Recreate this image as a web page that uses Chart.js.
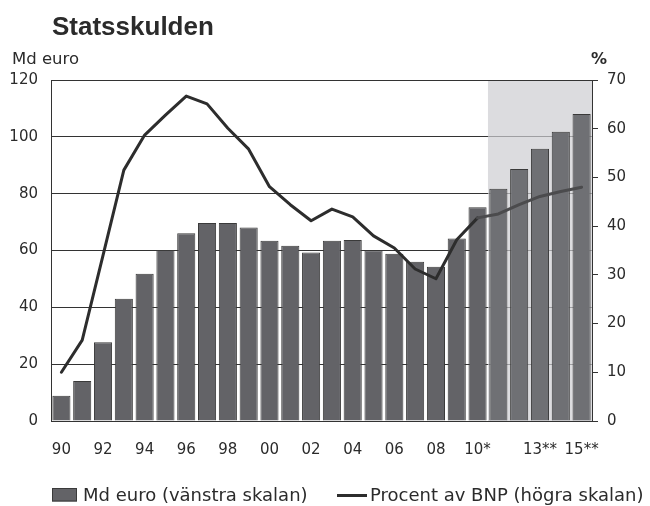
<!DOCTYPE html>
<html>
<head>
<meta charset="utf-8">
<script src="https://cdn.jsdelivr.net/npm/chart.js@4/dist/chart.umd.min.js"></script>
<style>
  body { margin: 0; background: #fff; }
  #wrap { width: 650px; height: 506px; }
</style>
</head>
<body>
<div id="wrap"><canvas id="skuld" width="650" height="506"></canvas></div>
<script>
const years = ['90','91','92','93','94','95','96','97','98','99','00','01','02','03','04','05','06','07','08','09','10','11','12','13','14','15'];
const tickLabels = ['90','','92','','94','','96','','98','','00','','02','','04','','06','','08','','10*','','','13**','','15**'];
const mdEuro = [8.9, 14.1, 27.7, 43.0, 51.8, 60.2, 66.1, 69.7, 69.7, 68.1, 63.4, 61.7, 59.3, 63.4, 63.7, 60.1, 58.9, 56.0, 54.3, 64.2, 75.2, 81.7, 88.7, 95.8, 101.8, 108.0];
const procentBnp = [10.0, 16.6, 34.0, 51.5, 58.7, 62.8, 66.7, 65.1, 60.1, 55.8, 48.1, 44.4, 41.1, 43.5, 41.9, 38.0, 35.5, 31.2, 29.2, 37.2, 41.7, 42.5, 44.4, 46.1, 47.1, 48.0];
const prognosFrom = 21; // index of '11', start of shaded forecast area

const barColor = '#636367';
const barColorPrognos = '#6f7074';
const lineColor = '#2d2d2d';
const lineColorPrognos = '#4b4b4d';
const axisColor = '#333333';
const tickFont = { family: 'DejaVu Sans', size: 15 };

const shadePlugin = {
    id: 'shade',
    beforeDatasetsDraw(chart) {
        const x = chart.scales.x;
        const area = chart.chartArea;
        const x0 = (x.getPixelForValue(prognosFrom - 1) + x.getPixelForValue(prognosFrom)) / 2;
        const c = chart.ctx;
        c.save();
        c.fillStyle = 'rgba(205,205,209,0.7)';
        c.fillRect(x0, area.top + 1, area.right - x0, area.bottom - area.top - 1);
        c.restore();
    }
};

// title, unit labels and legend
const textPlugin = {
    id: 'texts',
    afterDraw(chart) {
        const c = chart.ctx;
        const ds = chart.data.datasets;
        c.save();
        c.fillStyle = '#2b2b2b';
        c.textBaseline = 'alphabetic';
        c.textAlign = 'left';
        c.font = 'bold 26px "Liberation Sans", Arial, sans-serif';
        c.fillText('Statsskulden', 52, 35);
        c.font = '16.5px "DejaVu Sans", sans-serif';
        c.fillText('Md euro', 12, 64);
        c.font = 'bold 16px "DejaVu Sans", sans-serif';
        c.fillText('%', 591, 64);

        // legend
        c.font = '18px "DejaVu Sans", sans-serif';
        c.fillStyle = barColor;
        c.fillRect(52, 488, 25, 13.5);
        c.strokeStyle = '#3a3a3a';
        c.lineWidth = 1;
        c.strokeRect(52.5, 488.5, 24, 12.5);
        c.fillStyle = '#2b2b2b';
        c.fillText(ds[1].label, 83, 501);
        c.strokeStyle = lineColor;
        c.lineWidth = 3;
        c.beginPath();
        c.moveTo(337, 495.5);
        c.lineTo(367, 495.5);
        c.stroke();
        c.fillText(ds[0].label, 370, 501);
        c.restore();
    }
};

new Chart(document.getElementById('skuld'), {
    data: {
        labels: years,
        datasets: [
            {
                type: 'line',
                label: 'Procent av BNP (högra skalan)',
                data: procentBnp,
                yAxisID: 'y1',
                borderColor: lineColor,
                borderWidth: 3,
                pointRadius: 0,
                tension: 0,
                borderJoinStyle: 'round',
                borderCapStyle: 'round',
                segment: {
                    borderColor: ctx => ctx.p0DataIndex >= prognosFrom - 1 ? lineColorPrognos : lineColor
                },
                order: 0
            },
            {
                type: 'bar',
                label: 'Md euro (vänstra skalan)',
                data: mdEuro,
                yAxisID: 'y',
                backgroundColor: mdEuro.map((v, i) => i >= prognosFrom ? barColorPrognos : barColor),
                borderColor: '#3a3a3a',
                borderWidth: 1,
                barPercentage: 0.87,
                categoryPercentage: 1.0,
                order: 1
            }
        ]
    },
    options: {
        responsive: false,
        animation: false,
        layout: { padding: { top: 80, bottom: 45, left: 0, right: 0 } },
        plugins: {
            legend: { display: false },
            title: { display: false },
            tooltip: { enabled: false }
        },
        scales: {
            x: {
                grid: { display: false },
                border: { display: true, color: axisColor, width: 1 },
                ticks: {
                    autoSkip: false,
                    maxRotation: 0,
                    padding: 12,
                    color: '#2b2b2b',
                    font: tickFont,
                    callback: (v, i) => tickLabels[i]
                },
                afterFit: s => { s.height = 40; }
            },
            y: {
                position: 'left',
                min: 0,
                max: 120,
                grid: { color: axisColor, lineWidth: 1, drawTicks: false },
                border: { display: true, color: axisColor, width: 1 },
                ticks: { stepSize: 20, padding: 13, color: '#2b2b2b', font: tickFont },
                afterFit: s => { s.width = 51; }
            },
            y1: {
                position: 'right',
                min: 0,
                max: 70,
                grid: { drawOnChartArea: false, drawTicks: true, tickLength: 6, color: axisColor },
                border: { display: true, color: axisColor, width: 1 },
                ticks: { stepSize: 10, padding: 9, color: '#2b2b2b', font: tickFont },
                afterFit: s => { s.width = 58; }
            }
        }
    },
    plugins: [shadePlugin, textPlugin]
});
</script>
</body>
</html>
